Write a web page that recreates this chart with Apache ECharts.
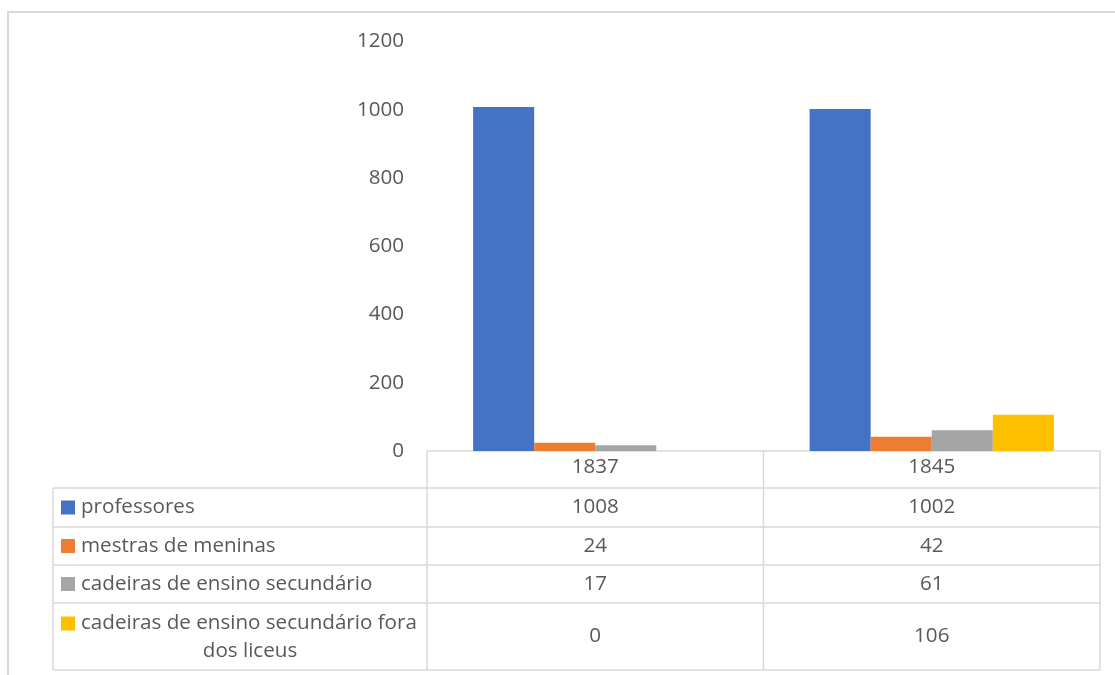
<!DOCTYPE html>
<html>
<head>
<meta charset="utf-8">
<script src="https://cdn.jsdelivr.net/npm/echarts@6/dist/echarts.min.js"></script>
<style>
  html, body { margin: 0; padding: 0; background: #fff; }
  #chart { width: 1115px; height: 675px; }
</style>
</head>
<body>
<div id="chart"></div>
<script>
// Anos (colunas da tabela de dados)
const years = ['1837', '1845'];

// Séries
const seriesNames = [
  'professores',
  'mestras de meninas',
  'cadeiras de ensino secundário',
  'cadeiras de ensino secundário fora dos liceus'
];
const professores = [1008, 1002];
const mestrasDeMeninas = [24, 42];
const cadeirasSecundario = [17, 61];
const cadeirasForaLiceus = [0, 106];

const seriesValues = [professores, mestrasDeMeninas, cadeirasSecundario, cadeirasForaLiceus];
const seriesColors = ['#4472C4', '#ED7D31', '#A5A5A5', '#FFC000'];

const yTicks = [0, 200, 400, 600, 800, 1000, 1200];

// Layout of the plot and data table
const FONT = '"Open Sans", "Noto Sans", sans-serif';
const FS = 20.6;
const TEXT = '#595959';
const LINE = '#D9D9D9';
const gridLeft = 427, gridRight = 1100, gridTop = 41.5, gridBottom = 451;
const tableLeft = 53;
// row boundaries below the header row
const rowLines = [488, 527, 565, 603, 670];

const chart = echarts.init(document.getElementById('chart'), null, { renderer: 'canvas' });

chart.setOption({
  animation: false,
  backgroundColor: '#fff',
  grid: {
    left: gridLeft,
    right: 1115 - gridRight,
    top: gridTop,
    bottom: 675 - gridBottom,
    containLabel: false
  },
  xAxis: {
    type: 'category',
    data: years,
    axisLine: { show: true, lineStyle: { color: LINE, width: 1.5 } },
    axisTick: { show: false },
    axisLabel: { color: TEXT, fontFamily: FONT, fontSize: FS, margin: 6 },
    splitLine: { show: false }
  },
  yAxis: {
    type: 'value',
    min: yTicks[0],
    max: yTicks[yTicks.length - 1],
    interval: yTicks[1] - yTicks[0],
    axisLine: { show: false },
    axisTick: { show: false },
    splitLine: { show: false },
    axisLabel: {
      color: TEXT, fontFamily: FONT, fontSize: FS, margin: 23,
      formatter: (v) => String(v)
    }
  },
  series: seriesNames.map((name, i) => ({
    name,
    type: 'bar',
    data: seriesValues[i],
    itemStyle: { color: seriesColors[i] },
    barGap: '0%',
    barCategoryGap: '27.4%'
  }))
});

// Data table drawn beneath the x axis, aligned to the category bands
function drawTable() {
  const c0 = chart.convertToPixel({ xAxisIndex: 0 }, years[0]);
  const c1 = chart.convertToPixel({ xAxisIndex: 0 }, years[1]);
  const band = c1 - c0;
  const colEdges = years.map((y) => chart.convertToPixel({ xAxisIndex: 0 }, y) - band / 2);
  colEdges.push(colEdges[colEdges.length - 1] + band);
  const tableBottom = rowLines[rowLines.length - 1];
  const font = FS + 'px ' + FONT;

  const els = [];
  // outer frame of the chart area
  els.push({
    type: 'rect',
    shape: { x: 8, y: 12, width: 1300, height: 900 },
    style: { fill: null, stroke: LINE, lineWidth: 2 },
    silent: true
  });
  // horizontal rules
  rowLines.forEach((y) => {
    els.push({
      type: 'line',
      shape: { x1: tableLeft, y1: y, x2: colEdges[colEdges.length - 1], y2: y },
      style: { stroke: LINE, lineWidth: 1.5 }
    });
  });
  // vertical rules
  els.push({
    type: 'line',
    shape: { x1: tableLeft, y1: rowLines[0], x2: tableLeft, y2: tableBottom },
    style: { stroke: LINE, lineWidth: 1.5 }
  });
  colEdges.forEach((x) => {
    els.push({
      type: 'line',
      shape: { x1: x, y1: gridBottom, x2: x, y2: tableBottom },
      style: { stroke: LINE, lineWidth: 1.5 }
    });
  });

  // row labels with legend keys, and values
  seriesNames.forEach((name, i) => {
    const yTop = rowLines[i], yBot = rowLines[i + 1];
    const yMid = (yTop + yBot) / 2;
    const wrapped = name === seriesNames[3];
    const lineY = wrapped ? yMid - 13 : yMid;
    els.push({
      type: 'rect',
      shape: { x: 61, y: lineY - 7, width: 14, height: 14 },
      style: { fill: seriesColors[i] }
    });
    if (wrapped) {
      els.push({
        type: 'text',
        style: {
          x: 81, y: lineY, text: 'cadeiras de ensino secundário fora',
          fill: TEXT, font, textAlign: 'left', textVerticalAlign: 'middle'
        }
      });
      els.push({
        type: 'text',
        style: {
          x: 250, y: lineY + 28, text: 'dos liceus',
          fill: TEXT, font, textAlign: 'center', textVerticalAlign: 'middle'
        }
      });
    } else {
      els.push({
        type: 'text',
        style: {
          x: 81, y: lineY, text: name,
          fill: TEXT, font, textAlign: 'left', textVerticalAlign: 'middle'
        }
      });
    }
    years.forEach((yr, j) => {
      const cx = chart.convertToPixel({ xAxisIndex: 0 }, yr);
      els.push({
        type: 'text',
        style: {
          x: cx, y: yMid, text: String(seriesValues[i][j]),
          fill: TEXT, font, textAlign: 'center', textVerticalAlign: 'middle'
        }
      });
    });
  });

  chart.setOption({ graphic: { elements: els } });
}

drawTable();
</script>
</body>
</html>
